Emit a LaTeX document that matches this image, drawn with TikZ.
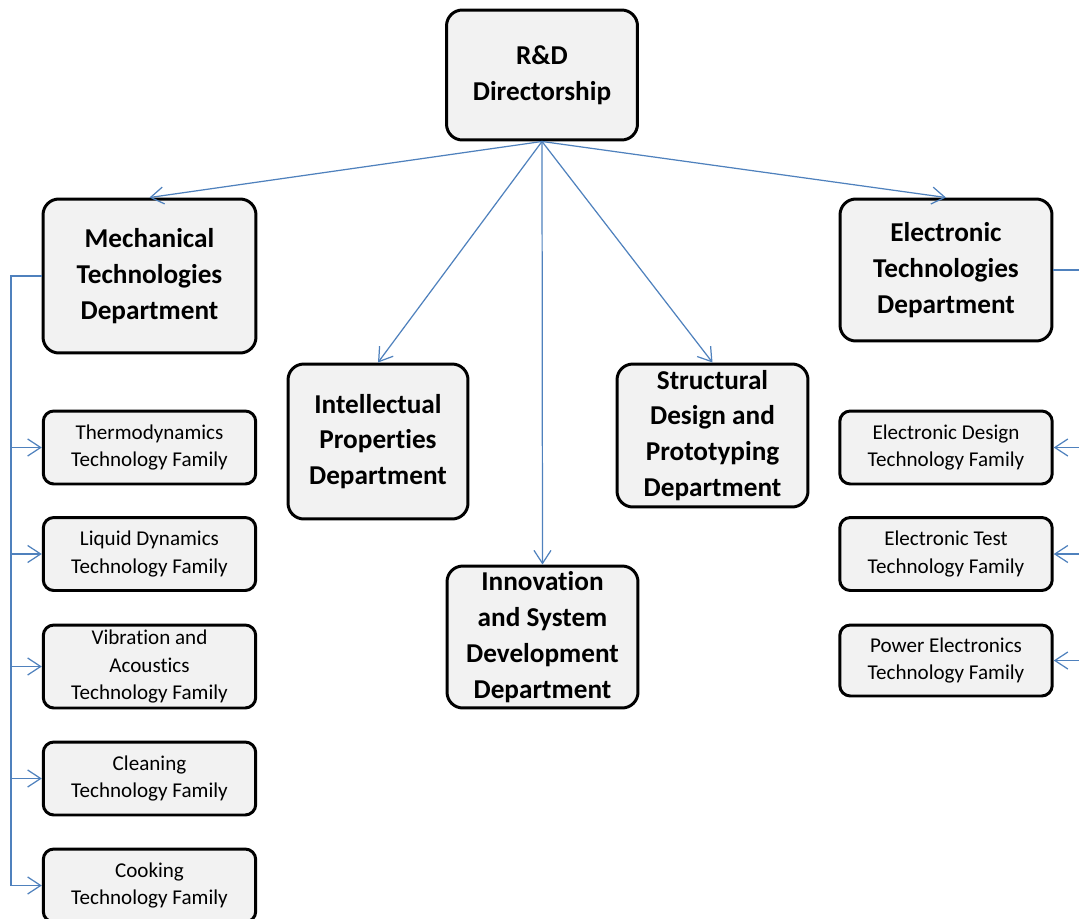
\documentclass[tikz,border=0pt]{standalone}
\usepackage{fontspec}
\setmainfont{Carlito}[Ligatures=NoCommon]
\usepackage{xcolor}
\usepackage{tikz}
\usetikzlibrary{arrows.meta,calc}
\definecolor{rdblue}{HTML}{4F81BD}
\definecolor{rdfill}{HTML}{F2F2F2}
\tikzset{
  >={Straight Barb[length=2.6mm, width=3.4mm]},
  rdbox/.style={rectangle, rounded corners=9pt, draw=black, fill=rdfill,
                line width=1.7pt, align=center, inner sep=0pt,
                font=\bfseries\fontsize{15.5}{20.4}\selectfont},
  rdfam/.style={rectangle, rounded corners=6pt, draw=black, fill=rdfill,
                line width=1.7pt, align=center, inner sep=0pt,
                minimum width=4.25cm, minimum height=1.46cm,
                font=\fontsize{12}{15.9}\selectfont},
  rdlink/.style={rdblue, line width=0.7pt},
  rdarrow/.style={->, rdblue, line width=0.7pt},
}

\begin{document}
\begin{tikzpicture}[x=0.02cm, y=-0.02cm]

  \useasboundingbox (0,0) rectangle (1079,919);

  % direzione
  \node[rdbox, minimum width=3.82cm, minimum height=2.6cm] (rd) at (542,75)
       {R\&D\\Directorship};

  % dipartimenti
  \node[rdbox, minimum width=4.26cm, minimum height=3.08cm] (mech) at (149.5,276)
       {Mechanical\\Technologies\\Department};
  \node[rdbox, minimum width=4.24cm, minimum height=2.84cm] (elec) at (946,270)
       {Electronic\\Technologies\\Department};
  \node[rdbox, minimum width=3.6cm, minimum height=3.1cm] (ip) at (378,441.5)
       {Intellectual\\Properties\\Department};
  \node[rdbox, minimum width=3.82cm, minimum height=2.86cm] (struct) at (712.5,435.5)
       {Structural\\Design and\\Prototyping\\Department};
  \node[rdbox, minimum width=3.82cm, minimum height=2.84cm] (innov) at (542.5,637)
       {Innovation\\and System\\Development\\Department};

  % famiglie meccaniche
  \node[rdfam] (thermo) at (149.5,447.5) {Thermodynamics\\Technology Family};
  \node[rdfam] (liquid) at (149.5,554)   {Liquid Dynamics\\Technology Family};
  \node[rdfam, minimum height=1.66cm] (vibra) at (149.5,666.5)
       {Vibration and\\Acoustics\\Technology Family};
  \node[rdfam] (clean) at (149.5,778.5)  {Cleaning\\Technology Family};
  \node[rdfam] (cook)  at (149.5,885.5)  {Cooking\\Technology Family};

  % famiglie elettroniche
  \node[rdfam] (edesign) at (946,447.5) {Electronic Design\\Technology Family};
  \node[rdfam] (etest)   at (946,554)   {Electronic Test\\Technology Family};
  \node[rdfam, minimum height=1.42cm] (power) at (946,660.5)
       {Power Electronics\\Technology Family};

  % frecce dalla direzione
  \draw[rdarrow] (rd.south) -- (mech.north);
  \draw[rdarrow] (rd.south) -- (ip.north);
  \draw[rdarrow] (rd.south) -- (innov.north);
  \draw[rdarrow] (rd.south) -- (struct.north);
  \draw[rdarrow] (rd.south) -- (elec.north);

  % bus sinistro
  \coordinate (lbus) at (11,276);
  \draw[rdlink] (mech.west) -- (lbus) -- (lbus |- cook.west);
  \foreach \f in {thermo,liquid,vibra,clean,cook}
    \draw[rdarrow] (lbus |- \f.west) -- (\f.west);

  % bus destro
  \coordinate (rbus) at (1095,270);
  \draw[rdlink] (elec.east) -- (rbus) -- (rbus |- power.east);
  \foreach \f in {edesign,etest,power}
    \draw[rdarrow] (rbus |- \f.east) -- (\f.east);

\end{tikzpicture}
\end{document}
